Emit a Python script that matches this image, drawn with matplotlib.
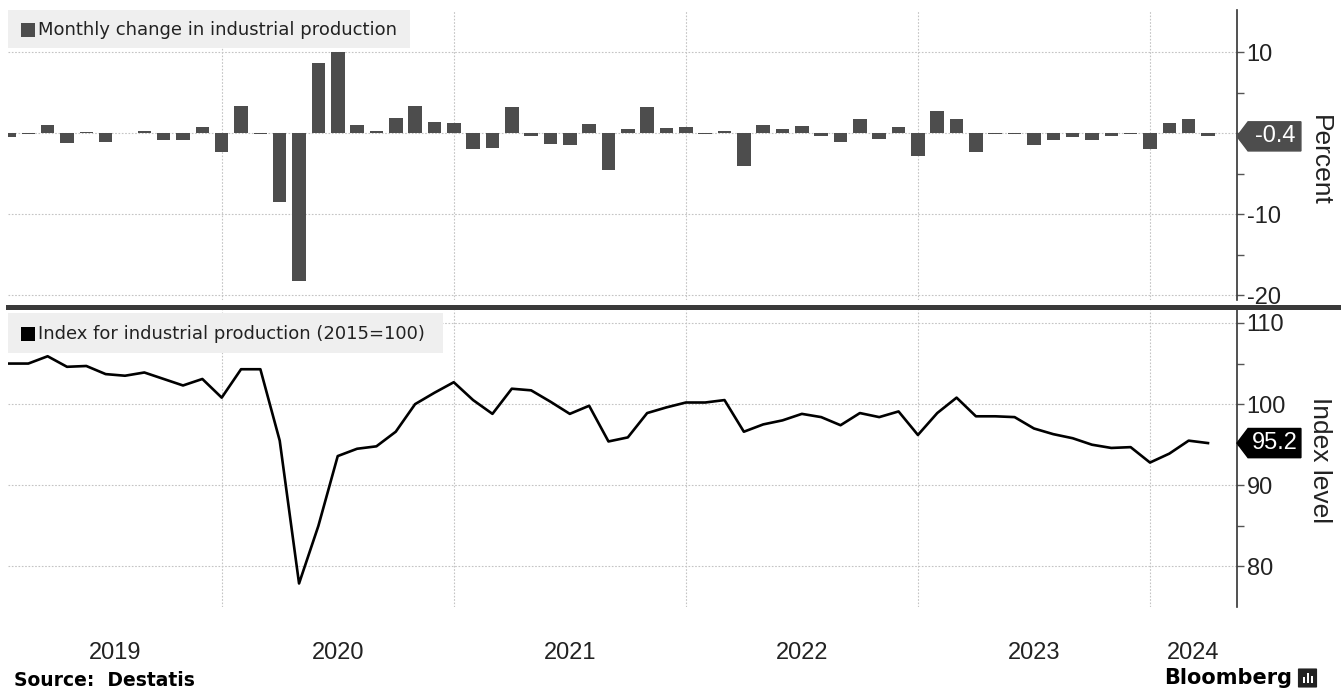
import matplotlib
matplotlib.use("Agg")
import matplotlib.pyplot as plt
import matplotlib.font_manager as fm
from matplotlib.patches import Rectangle, Polygon, FancyBboxPatch
from matplotlib.lines import Line2D
import numpy as np

# ---------------- data (Jan 2019 .. Mar 2024, monthly) ----------------
mom_change = [
    -0.5, -0.1, 1.0, -1.2, 0.1, -1.1, 0.0, 0.3, -0.8, -0.8, 0.7, -2.3,   # 2019
    3.4, -0.1, -8.5, -18.2, 8.7, 10.0, 1.0, 0.3, 1.9, 3.4, 1.4, 1.2,     # 2020
    -2.0, -1.8, 3.2, -0.4, -1.4, -1.5, 1.1, -4.5, 0.5, 3.2, 0.6, 0.7,    # 2021
    -0.1, 0.3, -4.1, 1.0, 0.5, 0.9, -0.4, -1.1, 1.7, -0.7, 0.7, -2.8,    # 2022
    2.7, 1.8, -2.3, -0.1, -0.1, -1.5, -0.8, -0.5, -0.8, -0.4, -0.1, -2.0,  # 2023
    1.3, 1.7, -0.4,                                                      # 2024
]
index_level = [
    105.0, 105.0, 105.9, 104.6, 104.7, 103.7, 103.5, 103.9, 103.1, 102.3, 103.1, 100.8,
    104.3, 104.3, 95.5, 77.9, 85.0, 93.6, 94.5, 94.8, 96.6, 100.0, 101.4, 102.7,
    100.5, 98.8, 101.9, 101.7, 100.3, 98.8, 99.8, 95.4, 95.9, 98.9, 99.6, 100.2,
    100.2, 100.5, 96.6, 97.5, 98.0, 98.8, 98.4, 97.4, 98.9, 98.4, 99.1, 96.2,
    98.9, 100.8, 98.5, 98.5, 98.4, 97.0, 96.3, 95.8, 95.0, 94.6, 94.7, 92.8,
    93.9, 95.5, 95.2,
]
years = ["2019", "2020", "2021", "2022", "2023", "2024"]
top_ticks = [-20, -10, 0, 10]
bottom_ticks = [80, 90, 100, 110]


def _pick_font(names, default="DejaVu Sans"):
    avail = {f.name for f in fm.fontManager.ttflist}
    for n in names:
        if n in avail:
            return n
    return default


NUM_FONT = _pick_font(["Liberation Sans", "Arial"])
TXT_FONT = "DejaVu Sans"

W, H = 1341, 696
fig = plt.figure(figsize=(W / 100, H / 100), dpi=100)
fig.patch.set_facecolor("white")


def fx(px):
    return px / W


def fy(py):
    return 1 - py / H


x = np.arange(len(mom_change))
ax1 = fig.add_axes([fx(8), fy(300), fx(1229), 290 / H])
ax2 = fig.add_axes([fx(8), fy(607), fx(1229), 297 / H])

GRID = dict(color="#c4c4c4", linestyle=(0, (1.5, 1.5)), linewidth=0.8)

for ax in (ax1, ax2):
    ax.set_xlim(-0.05, 63.5)
    for s in ("top", "left", "bottom"):
        ax.spines[s].set_visible(False)
    ax.spines["right"].set_color("#333333")
    ax.spines["right"].set_linewidth(1.2)
    ax.yaxis.tick_right()
    ax.tick_params(axis="y", which="both", direction="out", length=5, width=1,
                   color="#555555", labelsize=17, pad=2, labelcolor="#222222")
    ax.set_xticks([])
    for lab in ax.get_yticklabels():
        lab.set_fontfamily(NUM_FONT)
    for yb in range(11, 60, 12):
        ax.axvline(yb, zorder=0.5, **GRID)

# ---------------- top panel: bars ----------------
ax1.bar(x, mom_change, width=0.7, color="#4d4d4d", zorder=2)
ax1.set_ylim(-20.6, 15.2)
ax1.set_yticks(top_ticks)
ax1.set_yticklabels(["-20", "-10", "", "10"], fontfamily=NUM_FONT)
ax1.set_yticks([-15, -5, 5], minor=True)
for v in top_ticks:
    ax1.axhline(v, zorder=0.5, **GRID)

# ---------------- bottom panel: line ----------------
ax2.plot(np.arange(len(index_level)), index_level, color="black", linewidth=1.9, zorder=3)
ax2.set_ylim(75.0, 111.6)
ax2.set_yticks(bottom_ticks)
ax2.set_yticklabels([str(v) for v in bottom_ticks], fontfamily=NUM_FONT)
ax2.set_yticks([85, 95, 105], minor=True)
for v in bottom_ticks:
    ax2.axhline(v, zorder=0.5, **GRID)


# last-value tags on the right axis
def _value_tag(ax, value, text, color, half_h):
    tr = ax.get_yaxis_transform()
    poly = Polygon([(1.0, value), (1.009, value + half_h), (1.052, value + half_h),
                    (1.052, value - half_h), (1.009, value - half_h)],
                   closed=True, transform=tr, clip_on=False, facecolor=color,
                   edgecolor=color, zorder=5)
    ax.add_patch(poly)
    ax.text(1.031, value, text, transform=tr, ha="center", va="center",
            color="white", fontsize=17, fontfamily=NUM_FONT, clip_on=False, zorder=6)


_value_tag(ax1, mom_change[-1], f"{mom_change[-1]:.1f}", "#4d4d4d", 1.8)
_value_tag(ax2, index_level[-1], f"{index_level[-1]:.1f}", "black", 1.8)

# axis titles
fig.text(fx(1320), fy(160), "Percent", rotation=270, ha="center", va="center",
         fontsize=19, fontfamily=NUM_FONT, color="#222222")
fig.text(fx(1320), fy(460), "Index level", rotation=270, ha="center", va="center",
         fontsize=19, fontfamily=NUM_FONT, color="#222222")

# legend boxes
fig.patches.append(Rectangle((fx(8), fy(48)), fx(402), 38 / H, transform=fig.transFigure,
                             facecolor="#efefef", edgecolor="none", zorder=0.4))
fig.patches.append(Rectangle((fx(21), fy(37)), fx(14), 14 / H, transform=fig.transFigure,
                             facecolor="#4d4d4d", edgecolor="none"))
fig.text(fx(38), fy(30), "Monthly change in industrial production", ha="left", va="center",
         fontsize=13, fontfamily=TXT_FONT, color="#222222")

fig.patches.append(Rectangle((fx(8), fy(353)), fx(435), 40 / H, transform=fig.transFigure,
                             facecolor="#efefef", edgecolor="none", zorder=0.4))
fig.patches.append(Rectangle((fx(21), fy(341)), fx(14), 14 / H, transform=fig.transFigure,
                             facecolor="black", edgecolor="none"))
fig.text(fx(38), fy(334), "Index for industrial production (2015=100)", ha="left", va="center",
         fontsize=13, fontfamily=TXT_FONT, color="#222222")

# separator between panels
fig.add_artist(Line2D([fx(8), 1.0], [fy(307), fy(307)], color="#3a3a3a", linewidth=3.6))

# year labels, centred on the visible part of each year
bounds = [-1, 11, 23, 35, 47, 59, 71]
lo, hi = ax2.get_xlim()
for i, yr in enumerate(years):
    a, b = max(bounds[i], lo), min(bounds[i + 1], hi)
    ax2.text((a + b) / 2, -0.155, yr, transform=ax2.get_xaxis_transform(), ha="center",
             va="center", fontsize=17, fontfamily=NUM_FONT, color="#222222")

fig.text(fx(14), fy(681), "Source:  Destatis", ha="left", va="center", fontsize=13.5,
         fontweight="bold", fontfamily=TXT_FONT, color="black")
fig.text(fx(1292), fy(678), "Bloomberg", ha="right", va="center", fontsize=15,
         fontweight="bold", fontfamily=TXT_FONT, color="black")
# small logo mark
fig.patches.append(FancyBboxPatch((fx(1299), fy(687)), fx(17), 18 / H,
                                  boxstyle="round,pad=0.0008", transform=fig.transFigure,
                                  facecolor="#222222", edgecolor="none"))
for bx, bh in [(1303, 6), (1307, 10), (1311, 7)]:
    fig.patches.append(Rectangle((fx(bx), fy(683)), fx(2.2), bh / H, transform=fig.transFigure,
                                 facecolor="white", edgecolor="none"))

fig.savefig("out.png", dpi=100)
